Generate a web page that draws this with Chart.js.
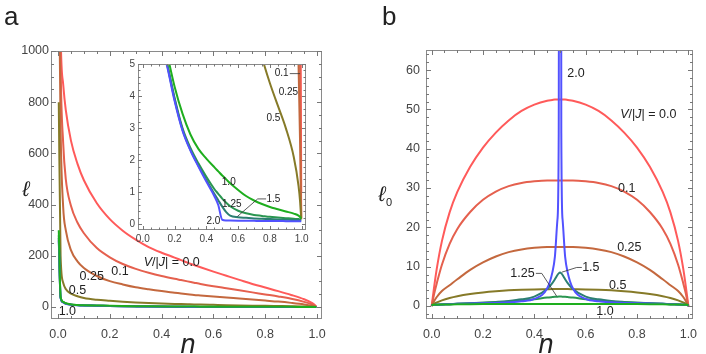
<!DOCTYPE html>
<html>
<head>
<meta charset="utf-8">
<script src="https://cdn.jsdelivr.net/npm/chart.js@4.4.0/dist/chart.umd.min.js"></script>
<style>
  body { margin: 0; background: #fff; }
  #wrap { position: relative; width: 706px; height: 354px; }
  canvas { position: absolute; }
</style>
</head>
<body>
<div id="wrap">
  <canvas id="chartA" width="360" height="354" style="left:0;top:0"></canvas>
  <canvas id="chartInset" width="215" height="195" style="left:100px;top:55px"></canvas>
  <canvas id="chartB" width="346" height="354" style="left:360px;top:0"></canvas>
</div>
<script>
// V/|J| values of the curves
const vLabels = ['0.0', '0.1', '0.25', '0.5', '1.0', '1.25', '1.5', '2.0'];

// panel a : ell vs n (also used by the inset)
const nA = [0.003, 0.01, 0.02, 0.03, 0.05, 0.075, 0.1, 0.15, 0.2, 0.25, 0.3, 0.35, 0.4, 0.45, 0.475,
            0.5, 0.525, 0.55, 0.6, 0.65, 0.7, 0.75, 0.8, 0.85, 0.9, 0.95, 0.98, 0.99, 0.997];
const ellV00  = [2000, 1080, 870, 770, 650, 560, 495, 405, 343, 298, 263, 234, 212, 193, 183,
                 173, 164, 155, 138, 122, 106, 90, 76, 62, 47, 30, 16, 9, 1];
const ellV01  = [1800, 960, 640, 500, 395, 330, 288, 230, 194, 168, 149, 134, 121, 110, 105,
                 100, 95, 90, 81, 73, 65, 57, 49, 41, 32, 20, 10, 5, 0.2];
const ellV025 = [1400, 700, 390, 300, 222, 178, 152, 121, 101, 88, 77, 69, 62, 56, 53,
                 50, 47, 45, 41, 37, 33, 29, 25, 21, 16, 10, 5, 2.5, 0.2];
const ellV05  = [800, 200, 95, 70, 52, 42, 35, 28, 24, 20.5, 17.8, 15.5, 13.6, 12, 11.3,
                 10.6, 9.9, 9.3, 8.2, 7.1, 6.1, 5.2, 4.4, 3.7, 3.0, 2.1, 1.2, 0.7, 0.15];
const ellV10  = [300, 40, 20, 14.5, 10, 7.8, 6.6, 5.4, 4.3, 3.45, 2.8, 2.35, 2.05, 1.78, 1.65,
                 1.52, 1.4, 1.28, 1.07, 0.88, 0.74, 0.63, 0.54, 0.47, 0.4, 0.33, 0.27, 0.22, 0.18];
const ellV125 = [280, 38, 19, 13.5, 9.3, 7.2, 6.2, 5.1, 3.95, 3.0, 2.38, 1.9, 1.48, 1.1, 0.95,
                 0.8, 0.67, 0.56, 0.42, 0.34, 0.29, 0.26, 0.23, 0.21, 0.19, 0.17, 0.16, 0.15, 0.15];
const ellV15  = [270, 37, 18.5, 13, 9, 7, 6, 5.05, 3.9, 2.95, 2.32, 1.83, 1.38, 0.95, 0.75,
                 0.55, 0.38, 0.27, 0.22, 0.2, 0.18, 0.17, 0.16, 0.15, 0.14, 0.13, 0.13, 0.12, 0.12];
const ellV20  = [260, 36, 18, 12.8, 8.9, 6.9, 5.9, 5.0, 3.85, 2.92, 2.3, 1.8, 1.33, 0.88, 0.6,
                 0.14, 0.12, 0.115, 0.11, 0.11, 0.105, 0.1, 0.1, 0.1, 0.095, 0.09, 0.09, 0.09, 0.09];

// panel b : ell_0 vs n
const nB = [0, 0.005, 0.01, 0.02, 0.04, 0.07, 0.1, 0.15, 0.2, 0.25, 0.3, 0.35, 0.4, 0.45, 0.47, 0.48, 0.49, 0.495,
            0.5, 0.505, 0.51, 0.52, 0.53, 0.55, 0.6, 0.65, 0.7, 0.75, 0.8, 0.85, 0.9, 0.93, 0.96, 0.98, 0.99, 0.995, 1];
const ell0V00  = [0, 2.5, 5, 9.5, 16.5, 23.8, 29, 35.4, 40.3, 44.1, 47.2, 49.6, 51.2, 52.2, 52.4, 52.5, 52.5, 52.5,
                  52.5, 52.5, 52.5, 52.5, 52.4, 52.2, 51.2, 49.6, 47.2, 44.1, 40.3, 35.4, 29, 23.8, 16.5, 9.5, 5, 2.5, 0];
const ell0V01  = [0, 1.6, 3.2, 5.8, 10.5, 15.8, 19.6, 23.9, 27.0, 29.1, 30.5, 31.3, 31.7, 31.9, 31.9, 31.9, 31.9, 31.9,
                  31.9, 31.9, 31.9, 31.9, 31.9, 31.9, 31.7, 31.3, 30.5, 29.1, 27.0, 23.9, 19.6, 15.8, 10.5, 5.8, 3.2, 1.6, 0];
const ell0V025 = [0, 0.7, 1.3, 2.3, 3.8, 5.3, 6.8, 9.2, 11.1, 12.6, 13.7, 14.4, 14.8, 15, 15, 15, 15, 15,
                  15, 15, 15, 15, 15, 15, 14.8, 14.4, 13.7, 12.6, 11.1, 9.2, 6.8, 5.3, 3.8, 2.3, 1.3, 0.7, 0];
const ell0V05  = [0.2, 0.4, 0.6, 0.9, 1.45, 2.05, 2.5, 3.05, 3.45, 3.75, 3.98, 4.13, 4.23, 4.28, 4.3, 4.3, 4.3, 4.3,
                  4.3, 4.3, 4.3, 4.3, 4.3, 4.28, 4.23, 4.13, 3.98, 3.75, 3.45, 3.05, 2.5, 2.05, 1.45, 0.9, 0.6, 0.4, 0.2];
const ell0V10  = [0.25, 0.28, 0.3, 0.33, 0.37, 0.41, 0.44, 0.47, 0.49, 0.5, 0.51, 0.52, 0.52, 0.52, 0.52, 0.52, 0.52, 0.52,
                  0.52, 0.52, 0.52, 0.52, 0.52, 0.52, 0.52, 0.52, 0.51, 0.5, 0.49, 0.47, 0.44, 0.41, 0.37, 0.33, 0.3, 0.28, 0.25];
const ell0V125 = [0.2, 0.24, 0.28, 0.32, 0.38, 0.46, 0.55, 0.68, 0.82, 0.98, 1.15, 1.4, 1.75, 2.15, 2.28, 2.34, 2.38, 2.4,
                  2.4, 2.4, 2.38, 2.34, 2.28, 2.15, 1.75, 1.4, 1.15, 0.98, 0.82, 0.68, 0.55, 0.46, 0.38, 0.32, 0.28, 0.24, 0.2];
const ell0V15  = [0.2, 0.24, 0.28, 0.32, 0.38, 0.46, 0.55, 0.7, 0.85, 1.05, 1.3, 1.7, 2.4, 4.3, 5.8, 6.8, 7.9, 8.3,
                  8.5, 8.3, 7.9, 6.8, 5.8, 4.3, 2.4, 1.7, 1.3, 1.05, 0.85, 0.7, 0.55, 0.46, 0.38, 0.32, 0.28, 0.24, 0.2];
const ell0V20  = [0.2, 0.24, 0.28, 0.32, 0.38, 0.46, 0.55, 0.62, 0.7, 0.8, 0.95, 1.2, 1.8, 4.5, 8.5, 12.5, 22, 44,
                  500, 44, 22, 12.5, 8.5, 4.5, 1.8, 1.2, 0.95, 0.8, 0.7, 0.62, 0.55, 0.46, 0.38, 0.32, 0.28, 0.24, 0.2];

// tick labels
const xTicks = [0, 0.2, 0.4, 0.6, 0.8, 1.0];
const yTicksA = [0, 200, 400, 600, 800, 1000];
const yTicksInset = [0, 1, 2, 3, 4, 5];
const yTicksB = [0, 10, 20, 30, 40, 50, 60];

// curve labels [text, n, value]
const labelsA = [['V/|J| = 0.0', 0.439, 173], ['0.1', 0.239, 138], ['0.25', 0.13, 118],
                 ['0.5', 0.075, 66], ['1.0', 0.036, -16]];
const labelsInset = [['0.1', 0.874, 4.7], ['0.25', 0.916, 4.11], ['0.5', 0.822, 3.31], ['1.0', 0.541, 1.31],
                     ['1.25', 0.56, 0.62], ['1.5', 0.822, 0.79], ['2.0', 0.444, 0.08]];
const leadersInset = [[[0.925, 4.7], [0.99, 4.7]], [[0.776, 0.79], [0.723, 0.79], [0.595, 0.24]]];
const labelsB = [['2.0', 0.562, 59], ['V/|J| = 0.0', 0.844, 48.6], ['0.1', 0.76, 29.9], ['0.25', 0.77, 14.9],
                 ['0.5', 0.725, 5.3], ['1.0', 0.675, -1.4], ['1.25', 0.354, 8.3], ['1.5', 0.62, 9.8]];
const leadersB = [[[0.406, 8.3], [0.429, 8.3], [0.487, 2.5]], [[0.585, 9.8], [0.565, 9.8], [0.507, 8.6]]];

const colors = ['#ff5a5a', '#e5604e', '#c4683e', '#867a28', '#1eae1e', '#2a9650', '#2c7f72', '#5252ff'];
const drawOrder = [7, 6, 5, 4, 0, 3, 2, 1];
const FONT = '"Liberation Sans", Arial, sans-serif';

function richText(ctx, text, x, y, size) {
  // V and J are italic, the rest upright
  const parts = text.split(/([VJ])/).filter(s => s.length);
  const fontOf = p => (/^[VJ]$/.test(p) ? 'italic ' : '') + size + 'px ' + FONT;
  let w = 0;
  parts.forEach(p => { ctx.font = fontOf(p); w += ctx.measureText(p).width; });
  let cx = x - w / 2;
  ctx.textAlign = 'left';
  parts.forEach(p => { ctx.font = fontOf(p); ctx.fillText(p, cx, y); cx += ctx.measureText(p).width; });
}

const frameTicks = {
  id: 'frameTicks',
  beforeDraw(chart, args, o) {
    if (!o.fill) return;
    const a = chart.chartArea, ctx = chart.ctx;
    ctx.save(); ctx.fillStyle = '#fff';
    ctx.fillRect(a.left, a.top, a.right - a.left, a.bottom - a.top);
    ctx.restore();
  },
  afterDraw(chart, args, o) {
    const {ctx, chartArea: a, scales: {x, y}} = chart;
    ctx.save();
    ctx.strokeStyle = '#8a8a8a';
    ctx.lineWidth = 1;
    ctx.strokeRect(Math.round(a.left) + 0.5, Math.round(a.top) + 0.5,
                   Math.round(a.right - a.left) - 1, Math.round(a.bottom - a.top) - 1);
    ctx.strokeStyle = '#777';
    ctx.beginPath();
    const isMajor = (s, v) => s.ticks.some(t => Math.abs(t.value - v) < 1e-6);
    const walk = (s, step, fn) => {
      for (let k = Math.ceil(s.min / step - 1e-9); k * step <= s.max + 1e-9; k++) {
        const v = k * step;
        fn(s.getPixelForValue(v), isMajor(s, v) ? o.major : o.minor);
      }
    };
    walk(x, o.xStep, (px, len) => {
      px = Math.round(px) + 0.5;
      ctx.moveTo(px, a.bottom); ctx.lineTo(px, a.bottom - len);
      ctx.moveTo(px, a.top); ctx.lineTo(px, a.top + len);
    });
    walk(y, o.yStep, (py, len) => {
      py = Math.round(py) + 0.5;
      ctx.moveTo(a.left, py); ctx.lineTo(a.left + len, py);
      ctx.moveTo(a.right, py); ctx.lineTo(a.right - len, py);
    });
    ctx.stroke();
    ctx.restore();
  }
};

const curveLabels = {
  id: 'curveLabels',
  afterDatasetsDraw(chart, args, o) {
    const {ctx, scales: {x, y}} = chart;
    ctx.save();
    ctx.strokeStyle = '#333';
    ctx.lineWidth = 0.8;
    (o.leaders || []).forEach(pts => {
      ctx.beginPath();
      pts.forEach(([n, v], i) => {
        const px = x.getPixelForValue(n), py = y.getPixelForValue(v);
        if (i) ctx.lineTo(px, py); else ctx.moveTo(px, py);
      });
      ctx.stroke();
    });
    ctx.fillStyle = '#222';
    ctx.textBaseline = 'middle';
    o.items.forEach(([t, n, v]) => richText(ctx, t, x.getPixelForValue(n), y.getPixelForValue(v), o.size));
    ctx.restore();
  }
};

const deco = {
  id: 'deco',
  afterDraw(chart, args, o) {
    if (!o.letter) return;
    const ctx = chart.ctx;
    ctx.save();
    ctx.fillStyle = '#222';
    ctx.textBaseline = 'alphabetic';
    ctx.textAlign = 'left';
    ctx.font = '26px ' + FONT;
    ctx.fillText(o.letter, o.letterX, 25);
    ctx.textAlign = 'center';
    ctx.font = 'italic 27px ' + FONT;
    ctx.fillText('n', o.nX, 353);
    ctx.font = 'italic 21px ' + FONT;
    ctx.fillText('\u2113', o.lX, o.lY);
    if (o.sub) {
      ctx.font = '11px ' + FONT;
      ctx.fillText(o.sub, o.lX + 7, o.lY + 5);
    }
    ctx.restore();
  }
};

function makeChart(id, nArr, series, c) {
  return new Chart(document.getElementById(id), {
    type: 'scatter',
    data: {
      datasets: series.map((vals, i) => ({
        label: 'V/|J| = ' + vLabels[i],
        data: nArr.map((n, k) => ({x: n, y: vals[k]})),
        showLine: true,
        borderColor: colors[i],
        borderWidth: 2,
        pointRadius: 0,
        pointHoverRadius: 0,
        cubicInterpolationMode: 'monotone',
        order: drawOrder[i]
      }))
    },
    options: {
      responsive: false,
      animation: false,
      devicePixelRatio: 1,
      layout: {padding: c.pad},
      plugins: {
        legend: {display: false},
        tooltip: {enabled: false},
        frameTicks: c.frame,
        curveLabels: c.labels,
        deco: c.deco
      },
      scales: {
        x: {
          type: 'linear', min: c.xr[0], max: c.xr[1],
          grid: {display: false, drawTicks: false}, border: {display: false},
          ticks: {color: '#444', font: {family: FONT, size: c.fs}, padding: c.xPad,
                  maxRotation: 0, autoSkip: false, callback: v => v.toFixed(1)},
          afterBuildTicks: s => { s.ticks = xTicks.map(v => ({value: v})); },
          afterFit: s => { s.height = c.xH; }
        },
        y: {
          type: 'linear', min: c.yr[0], max: c.yr[1],
          grid: {display: false, drawTicks: false}, border: {display: false},
          ticks: {color: '#444', font: {family: FONT, size: c.fs}, padding: c.yPad,
                  autoSkip: false, callback: v => String(v)},
          afterBuildTicks: s => { s.ticks = c.yTicks.map(v => ({value: v})); },
          afterFit: s => { s.width = c.yW; }
        }
      }
    },
    plugins: [frameTicks, curveLabels, deco]
  });
}

const seriesA = [ellV00, ellV01, ellV025, ellV05, ellV10, ellV125, ellV15, ellV20];
const seriesB = [ell0V00, ell0V01, ell0V025, ell0V05, ell0V10, ell0V125, ell0V15, ell0V20];

makeChart('chartA', nA, seriesA, {
  pad: {top: 51, right: 38, bottom: 0, left: 0},
  xr: [-0.027, 1.019], yr: [-47, 1000], yTicks: yTicksA,
  fs: 12.5, xPad: 8, yPad: 2, xH: 35, yW: 51,
  frame: {xStep: 0.05, yStep: 50, major: 5, minor: 3},
  labels: {items: labelsA, size: 12.5},
  deco: {letter: 'a', letterX: 4, nX: 188, lX: 26, lY: 196}
});

makeChart('chartInset', nA, seriesA, {
  pad: {top: 9, right: 9, bottom: 0, left: 0},
  xr: [-0.03, 1.027], yr: [-0.18, 5], yTicks: yTicksInset,
  fs: 10, xPad: 3, yPad: 3, xH: 20, yW: 38,
  frame: {xStep: 0.05, yStep: 0.2, major: 4, minor: 2.5, fill: true},
  labels: {items: labelsInset, leaders: leadersInset, size: 10},
  deco: {}
});

makeChart('chartB', nB, seriesB, {
  pad: {top: 50, right: 13, bottom: 0, left: 0},
  xr: [-0.022, 1.018], yr: [-3.3, 65.1], yTicks: yTicksB,
  fs: 12.5, xPad: 8, yPad: 6, xH: 35, yW: 66,
  frame: {xStep: 0.05, yStep: 2, major: 5, minor: 3},
  labels: {items: labelsB, leaders: leadersB, size: 12.5},
  deco: {letter: 'b', letterX: 22, nX: 186, lX: 22, lY: 201, sub: '0'}
});
</script>
</body>
</html>
